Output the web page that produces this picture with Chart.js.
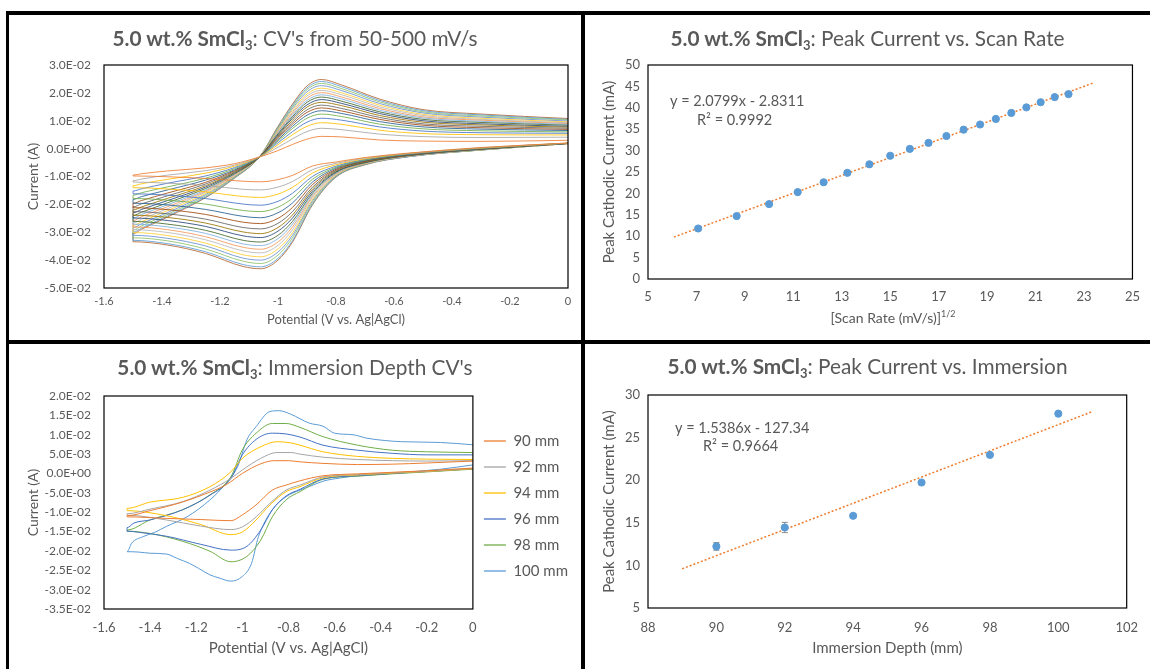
<!DOCTYPE html>
<html>
<head>
<meta charset="utf-8">
<script src="https://cdn.jsdelivr.net/npm/chart.js@4.4.1/dist/chart.umd.min.js"></script>
<style>
  body { margin: 0; background: #fff; }
  #page { position: relative; width: 1150px; height: 669px; overflow: hidden; background: #fff; font-family: Lato, sans-serif; color: #595959; }
  .bar { position: absolute; background: #000; }
  canvas { position: absolute; }
  .title { position: absolute; text-align: center; font-size: 20.8px; line-height: 24px; white-space: nowrap; }
  .title b { font-weight: 700; }
  .title sub { font-size: 13px; vertical-align: -4px; line-height: 0; }
  .axlab { position: absolute; text-align: center; font-size: 14px; line-height: 20px; white-space: nowrap; }
  .axlab sup { font-size: 9px; vertical-align: 6px; line-height: 0; }
</style>
</head>
<body>
<div id="page">
  <canvas id="cvRate" width="572" height="325" style="left:9px;top:15px"></canvas>
  <canvas id="peakRate" width="565" height="325" style="left:585px;top:15px"></canvas>
  <canvas id="cvDepth" width="572" height="325" style="left:9px;top:344px"></canvas>
  <canvas id="peakDepth" width="565" height="325" style="left:585px;top:344px"></canvas>

  <div class="title" style="left:9px;top:26px;width:572px"><b>5.0 wt.% SmCl<sub>3</sub></b>: CV's from 50-500 mV/s</div>
  <div class="title" style="left:585px;top:26px;width:565px"><b>5.0 wt.% SmCl<sub>3</sub></b>: Peak Current vs. Scan Rate</div>
  <div class="title" style="left:9px;top:355px;width:572px"><b>5.0 wt.% SmCl<sub>3</sub></b>: Immersion Depth CV's</div>
  <div class="title" style="left:585px;top:354px;width:565px"><b>5.0 wt.% SmCl<sub>3</sub></b>: Peak Current vs. Immersion</div>
  <div class="axlab" style="left:693px;top:308px;width:400px">[Scan Rate (mV/s)]<sup>1/2</sup></div>

  <div class="bar" style="left:6px;top:11px;width:1144px;height:4px"></div>
  <div class="bar" style="left:6px;top:11px;width:3px;height:658px"></div>
  <div class="bar" style="left:581px;top:11px;width:4px;height:658px"></div>
  <div class="bar" style="left:6px;top:340px;width:1144px;height:4px"></div>
</div>

<script>
// ---- CVs at different scan rates (current in mA) ----
const scanRates = [50, 75, 100, 125, 150, 175, 200, 225, 250, 275, 300, 325, 350, 375, 400, 425, 450, 475, 500];
const cvCathPotential = [0, -0.3, -0.55, -0.7, -0.8, -0.88, -0.95, -1.0, -1.06, -1.12, -1.25, -1.38, -1.5];
const cvRetPotential = [-1.5, -1.47, -1.38, -1.25, -1.15, -1.064, -1.0, -0.95, -0.9, -0.85, -0.78, -0.65, -0.5, -0.3, 0];
const cvCathCurrent = [
  [2.0, 0.4, -1.6, -3.2, -4.8, -6.2, -9.6, -11.1, -11.9, -11.7, -10.7, -10.1, -9.8],
  [2.0, 0.3, -1.7, -3.4, -5.3, -7.5, -11.8, -13.8, -14.8, -14.6, -13.2, -12.4, -12.0],
  [2.0, 0.2, -1.8, -3.7, -5.8, -8.7, -13.9, -16.3, -17.5, -17.2, -15.5, -14.5, -14.0],
  [1.9, 0.2, -2.0, -3.9, -6.3, -9.9, -16.0, -18.9, -20.3, -19.9, -17.9, -16.7, -16.2],
  [1.9, 0.1, -2.0, -4.1, -6.7, -10.9, -17.8, -21.0, -22.6, -22.2, -19.9, -18.5, -17.9],
  [1.9, 0.0, -2.1, -4.3, -7.0, -11.9, -19.5, -23.0, -24.8, -24.3, -21.8, -20.2, -19.6],
  [1.9, 0.0, -2.2, -4.5, -7.4, -12.8, -21.1, -25.0, -26.9, -26.4, -23.6, -21.9, -21.2],
  [1.9, -0.1, -2.3, -4.6, -7.7, -13.7, -22.6, -26.8, -28.8, -28.3, -25.3, -23.4, -22.6],
  [1.9, -0.1, -2.4, -4.8, -8.0, -14.4, -23.8, -28.3, -30.5, -29.9, -26.7, -24.7, -23.9],
  [1.9, -0.2, -2.4, -4.9, -8.3, -15.1, -24.9, -29.6, -31.9, -31.3, -27.9, -25.8, -24.9],
  [1.9, -0.2, -2.5, -5.0, -8.5, -15.8, -26.1, -31.1, -33.5, -32.9, -29.3, -27.1, -26.1],
  [1.9, -0.3, -2.6, -5.1, -8.8, -16.3, -27.1, -32.3, -34.8, -34.2, -30.4, -28.1, -27.1],
  [1.8, -0.3, -2.6, -5.2, -9.0, -16.9, -28.1, -33.5, -36.1, -35.4, -31.6, -29.1, -28.1],
  [1.8, -0.3, -2.7, -5.3, -9.2, -17.5, -29.1, -34.7, -37.4, -36.7, -32.7, -30.1, -29.1],
  [1.8, -0.4, -2.7, -5.4, -9.5, -18.1, -30.2, -36.0, -38.8, -38.1, -33.9, -31.2, -30.1],
  [1.8, -0.4, -2.8, -5.5, -9.7, -18.6, -31.1, -37.1, -40.0, -39.3, -34.9, -32.2, -31.1],
  [1.8, -0.5, -2.8, -5.6, -9.9, -19.2, -32.0, -38.2, -41.2, -40.4, -36.0, -33.1, -32.0],
  [1.8, -0.5, -2.9, -5.7, -10.1, -19.7, -33.0, -39.4, -42.4, -41.6, -37.0, -34.1, -32.9],
  [1.8, -0.5, -2.9, -5.8, -10.2, -20.0, -33.5, -40.0, -43.1, -42.3, -37.6, -34.6, -33.4]
];
const cvRetCurrent = [
  [-9.5, -9.0, -8.0, -6.9, -5.4, -3.0, -0.7, 1.5, 3.4, 4.4, 4.2, 3.1, 2.7, 2.6, 3.0],
  [-11.5, -10.9, -9.5, -7.9, -5.9, -3.0, 0.5, 3.5, 6.1, 7.3, 6.8, 5.2, 4.3, 4.0, 4.1],
  [-13.3, -12.6, -11.0, -8.8, -6.3, -3.0, 1.4, 5.0, 8.0, 9.3, 8.7, 6.6, 5.4, 5.0, 4.9],
  [-15.2, -14.4, -12.4, -9.8, -6.8, -3.0, 2.1, 6.1, 9.5, 10.9, 10.2, 7.8, 6.3, 5.7, 5.5],
  [-16.7, -15.8, -13.7, -10.6, -7.2, -3.0, 2.7, 7.2, 10.9, 12.4, 11.5, 8.8, 7.1, 6.4, 6.0],
  [-18.2, -17.2, -14.8, -11.3, -7.6, -3.0, 3.2, 8.0, 12.0, 13.6, 12.6, 9.7, 7.8, 7.0, 6.5],
  [-19.6, -18.6, -15.9, -12.1, -7.9, -3.0, 3.7, 8.8, 13.0, 14.6, 13.5, 10.5, 8.4, 7.5, 6.9],
  [-20.9, -19.8, -16.9, -12.7, -8.2, -3.0, 4.1, 9.5, 13.9, 15.6, 14.4, 11.2, 8.9, 8.0, 7.3],
  [-22.0, -20.9, -17.8, -13.3, -8.5, -3.0, 4.5, 10.2, 14.9, 16.6, 15.4, 11.9, 9.5, 8.5, 7.7],
  [-23.0, -21.8, -18.6, -13.8, -8.7, -3.0, 4.9, 10.9, 15.7, 17.6, 16.2, 12.6, 10.0, 8.9, 8.0],
  [-24.0, -22.8, -19.4, -14.3, -9.0, -3.0, 5.3, 11.5, 16.6, 18.5, 17.0, 13.2, 10.5, 9.4, 8.4],
  [-24.9, -23.6, -20.1, -14.8, -9.2, -3.0, 5.7, 12.1, 17.3, 19.3, 17.8, 13.8, 11.0, 9.8, 8.7],
  [-25.8, -24.4, -20.8, -15.2, -9.4, -3.0, 6.0, 12.7, 18.1, 20.1, 18.5, 14.4, 11.4, 10.2, 9.0],
  [-26.7, -25.3, -21.5, -15.6, -9.7, -3.0, 6.3, 13.2, 18.9, 20.9, 19.3, 15.0, 11.9, 10.5, 9.3],
  [-27.6, -26.2, -22.2, -16.1, -9.9, -3.0, 6.7, 13.8, 19.6, 21.7, 20.0, 15.6, 12.3, 10.9, 9.6],
  [-28.4, -26.9, -22.9, -16.5, -10.1, -3.0, 7.0, 14.4, 20.4, 22.6, 20.8, 16.2, 12.8, 11.3, 9.9],
  [-29.2, -27.7, -23.5, -17.0, -10.3, -3.0, 7.4, 15.0, 21.2, 23.4, 21.5, 16.8, 13.2, 11.7, 10.3],
  [-30.0, -28.5, -24.1, -17.4, -10.5, -3.0, 7.7, 15.5, 21.8, 24.1, 22.2, 17.3, 13.6, 12.1, 10.5],
  [-30.5, -28.9, -24.5, -17.6, -10.6, -3.0, 8.0, 16.0, 22.5, 24.8, 22.8, 17.8, 14.0, 12.4, 10.8]
];
const rateColors = ['#ED7D31', '#A5A5A5', '#FFC000', '#4472C4', '#70AD47', '#255E91', '#9E480E', '#636363', '#997300', '#264478',
  '#43682B', '#7CAFDD', '#F1975A', '#B7B7B7', '#FFCD33', '#698ED0', '#8CC168', '#5B9BD5', '#B4642D'];

// ---- peak current vs scan rate ----
const sqrtScanRate = [7.07, 8.66, 10.0, 11.18, 12.25, 13.23, 14.14, 15.0, 15.81, 16.58, 17.32, 18.03, 18.71, 19.36, 20.0, 20.62, 21.21, 21.79, 22.36];
const peakByRate = [11.8, 14.7, 17.5, 20.3, 22.6, 24.8, 26.8, 28.8, 30.4, 31.8, 33.4, 34.9, 36.1, 37.4, 38.8, 40.1, 41.3, 42.5, 43.2];
const rateFitX = [6.07, 23.36];
const rateFitY = [9.79, 45.76];

// ---- CVs at different immersion depths (current in mA) ----
const depthLabels = ['90 mm', '92 mm', '94 mm', '96 mm', '98 mm', '100 mm'];
const cv90V = [0, -0.2, -0.35, -0.5, -0.65, -0.75, -0.81, -0.87, -0.94, -1.0, -1.05, -1.18, -1.33, -1.5, -1.5, -1.4, -1.26, -1.14, -1.07, -1.0, -0.92, -0.86, -0.8, -0.75, -0.65, -0.5, -0.35, -0.2, 0];
const cv90I = [1.4, 0.7, 0.3, -0.1, -0.6, -1.9, -3.0, -4.3, -8.1, -10.7, -12.2, -11.9, -11.6, -11.2, -10.9, -9.6, -7.4, -4.8, -2.9, 0.0, 2.5, 3.3, 3.3, 3.0, 2.6, 2.3, 2.4, 2.7, 3.2];
const cv92V = [0, -0.2, -0.35, -0.5, -0.65, -0.75, -0.81, -0.88, -0.94, -1.0, -1.05, -1.18, -1.33, -1.5, -1.5, -1.4, -1.26, -1.14, -1.05, -1.0, -0.92, -0.85, -0.79, -0.75, -0.65, -0.5, -0.35, -0.2, 0];
const cv92I = [1.3, 0.6, 0.2, -0.3, -0.9, -3.0, -4.3, -7.7, -11.2, -13.8, -14.5, -13.6, -12.0, -10.8, -10.4, -9.2, -7.3, -4.3, -1.3, 0.9, 3.9, 5.4, 5.4, 5.0, 4.2, 3.6, 3.3, 3.2, 3.3];
const cv94V = [0, -0.2, -0.35, -0.5, -0.65, -0.75, -0.81, -0.88, -0.94, -1.0, -1.05, -1.18, -1.33, -1.5, -1.5, -1.4, -1.26, -1.14, -1.05, -1.0, -0.92, -0.85, -0.79, -0.75, -0.65, -0.5, -0.35, -0.2, 0];
const cv94I = [1.2, 0.5, 0.1, -0.4, -1.1, -3.4, -4.7, -8.1, -12.0, -15.1, -15.8, -13.2, -10.9, -9.6, -9.0, -7.4, -6.2, -3.4, 0.4, 3.9, 6.9, 8.2, 7.9, 7.3, 5.6, 4.4, 3.9, 3.7, 3.6];
const cv96V = [0, -0.2, -0.35, -0.5, -0.65, -0.75, -0.81, -0.87, -0.92, -0.98, -1.05, -1.18, -1.33, -1.45, -1.5, -1.5, -1.47, -1.4, -1.26, -1.14, -1.05, -1.0, -0.94, -0.87, -0.81, -0.75, -0.65, -0.5, -0.35, -0.2, 0];
const cv96I = [1.2, 0.5, 0.0, -0.6, -1.4, -4.1, -5.8, -9.4, -14.6, -18.8, -19.8, -18.3, -16.2, -15.2, -14.9, -14.0, -12.8, -12.0, -9.4, -5.6, -1.3, 4.8, 8.8, 10.4, 10.2, 9.4, 7.3, 6.0, 5.2, 4.8, 4.8];
const cv98V = [0, -0.2, -0.35, -0.5, -0.65, -0.75, -0.81, -0.87, -0.92, -0.98, -1.05, -1.14, -1.26, -1.4, -1.5, -1.5, -1.4, -1.26, -1.14, -1.05, -1.0, -0.94, -0.87, -0.81, -0.75, -0.65, -0.5, -0.35, -0.2, 0];
const cv98I = [1.1, 0.4, -0.1, -0.7, -1.5, -4.7, -6.8, -11.2, -17.2, -21.4, -22.8, -20.1, -17.5, -15.5, -14.9, -14.6, -12.0, -9.4, -5.5, -0.9, 6.1, 10.4, 12.9, 12.9, 11.9, 9.5, 7.3, 6.0, 5.6, 5.4];
const cv100V = [0, -0.14, -0.36, -0.5, -0.58, -0.65, -0.71, -0.75, -0.81, -0.87, -0.93, -0.96, -1.0, -1.05, -1.1, -1.14, -1.19, -1.23, -1.28, -1.33, -1.4, -1.45, -1.5,
  -1.5, -1.48, -1.43, -1.38, -1.33, -1.24, -1.14, -1.07, -1.02, -0.98, -0.94, -0.88, -0.84, -0.79, -0.71, -0.65, -0.6, -0.52, -0.46, -0.38, -0.31, -0.14, 0];
const cv100I = [2.2, 1.1, 0.0, -0.6, -1.2, -2.0, -3.4, -4.3, -6.0, -9.4, -16.3, -23.2, -26.6, -27.8, -27.0, -26.2, -24.5, -23.2, -22.0, -20.8, -20.6, -20.3, -20.2,
  -20.2, -18.0, -16.3, -15.2, -13.7, -11.2, -6.8, -2.5, 1.8, 8.7, 12.1, 16.0, 16.2, 15.3, 13.0, 12.2, 10.4, 10.0, 9.1, 8.5, 8.2, 8.0, 7.4];
const depthColors = ['#ED7D31', '#A5A5A5', '#FFC000', '#4472C4', '#70AD47', '#5B9BD5'];

// ---- peak current vs immersion depth ----
const depths = [90, 92, 94, 96, 98, 100];
const peakByDepth = [12.23, 14.45, 15.82, 19.73, 22.97, 27.81];
const peakErr = [0.45, 0.6, 0.1, 0.1, 0.1, 0.1];
const depthFitX = [89, 101];
const depthFitY = [9.60, 28.06];

const textColor = '#595959';
Chart.defaults.font.family = 'Lato, sans-serif';
Chart.defaults.color = textColor;
Chart.defaults.animation = false;

function sci(v) {
  if (Math.abs(v) < 1e-9) return '0.0E+00';
  var parts = v.toExponential(1).split('e');
  return parts[0] + 'E' + parts[1][0] + parts[1].slice(1).padStart(2, '0');
}

function plain(v) {
  return String(Math.round(v * 10) / 10);
}

function pts(xs, ys, k) {
  return xs.map(function(x, j) { return {x: x, y: ys[j] * k}; });
}

// black box round the plot area
const framePlugin = {
  id: 'frame',
  afterDatasetsDraw(chart) {
    var a = chart.chartArea, ctx = chart.ctx;
    ctx.save();
    ctx.strokeStyle = '#000';
    ctx.lineWidth = 1.2;
    ctx.strokeRect(a.left, a.top, a.right - a.left, a.bottom - a.top);
    ctx.restore();
  }
};

// trendline equation text
const eqPlugin = {
  id: 'eq',
  afterDraw(chart, args, opts) {
    var a = chart.chartArea, ctx = chart.ctx;
    ctx.save();
    ctx.fillStyle = textColor;
    ctx.font = '14.5px Lato, sans-serif';
    ctx.textAlign = 'left';
    ctx.textBaseline = 'middle';
    opts.lines.forEach(function(t, i) {
      ctx.fillText(t, a.left + opts.dx[i], a.top + opts.dy[i]);
    });
    ctx.restore();
  }
};

// error bars on the depth points
const errPlugin = {
  id: 'errbars',
  beforeDatasetsDraw(chart) {
    var xs = chart.scales.x, ys = chart.scales.y, ctx = chart.ctx;
    ctx.save();
    ctx.strokeStyle = '#8C8C8C';
    ctx.lineWidth = 1;
    depths.forEach(function(d, i) {
      var px = xs.getPixelForValue(d);
      var top = ys.getPixelForValue(peakByDepth[i] + peakErr[i]);
      var bot = ys.getPixelForValue(peakByDepth[i] - peakErr[i]);
      ctx.beginPath();
      ctx.moveTo(px, top); ctx.lineTo(px, bot);
      ctx.moveTo(px - 3, top); ctx.lineTo(px + 3, top);
      ctx.moveTo(px - 3, bot); ctx.lineTo(px + 3, bot);
      ctx.stroke();
    });
    ctx.restore();
  }
};

function cvScales(yMin, yMax, yStep, xFont, yFont, xTitleSize, xHeight, xPad, xTitlePad) {
  return {
    x: {
      type: 'linear', min: -1.6, max: 0,
      grid: {display: false, drawTicks: false}, border: {display: false},
      ticks: {stepSize: 0.2, font: {size: xFont}, color: textColor, padding: xPad, maxRotation: 0, callback: plain},
      title: {display: true, text: 'Potential (V vs. Ag|AgCl)', color: textColor, font: {size: xTitleSize}, padding: {top: 0, bottom: xTitlePad}},
      afterFit: function(s) { s.height = xHeight; }
    },
    y: {
      min: yMin, max: yMax,
      grid: {display: false, drawTicks: false}, border: {display: false},
      ticks: {stepSize: yStep, font: {size: yFont}, color: textColor, padding: 13, callback: sci},
      title: {display: true, text: 'Current (A)', color: textColor, font: {size: 14}, padding: {top: 16, bottom: 0}},
      afterFit: function(s) { s.width = 95; }
    }
  };
}

function peakScales(xMin, xMax, xStep, yMin, yMax, yStep, xTitle, xHeight, xPad) {
  return {
    x: {
      type: 'linear', min: xMin, max: xMax,
      grid: {display: false, drawTicks: false}, border: {display: false},
      ticks: {stepSize: xStep, font: {size: 13}, color: textColor, padding: xPad, maxRotation: 0},
      title: {display: xTitle !== '', text: xTitle, color: textColor, font: {size: 15}, padding: {top: 0, bottom: 12}},
      afterFit: function(s) { s.height = xHeight; }
    },
    y: {
      min: yMin, max: yMax,
      grid: {display: false, drawTicks: false}, border: {display: false},
      ticks: {stepSize: yStep, font: {size: 13}, color: textColor, padding: 8},
      title: {display: true, text: 'Peak Cathodic Current (mA)', color: textColor, font: {size: 15}, padding: {top: 15, bottom: 0}},
      afterFit: function(s) { s.width = 63; }
    }
  };
}

function drawCharts() {
  // top left: CVs vs scan rate
  var rateSets = scanRates.map(function(rate, i) {
    return {
      label: rate + ' mV/s',
      data: pts(cvCathPotential, cvCathCurrent[i], 0.001).concat(pts(cvRetPotential, cvRetCurrent[i], 0.001)),
      borderColor: rateColors[i],
      borderWidth: 0.85,
      pointRadius: 0,
      cubicInterpolationMode: 'monotone'
    };
  });
  new Chart(document.getElementById('cvRate'), {
    type: 'line',
    data: {datasets: rateSets},
    options: {
      responsive: false,
      layout: {padding: {top: 50, right: 13, bottom: 0, left: 0}},
      plugins: {legend: {display: false}, tooltip: {enabled: false}},
      scales: cvScales(-0.05, 0.03, 0.01, 11, 12, 13, 52, 7, 12)
    },
    plugins: [framePlugin]
  });

  // top right: peak current vs sqrt(scan rate)
  new Chart(document.getElementById('peakRate'), {
    type: 'scatter',
    data: {
      datasets: [{
        label: 'Peak current',
        data: pts(sqrtScanRate, peakByRate, 1),
        backgroundColor: '#5B9BD5', borderColor: '#5B9BD5', pointRadius: 3.6
      }, {
        label: 'Linear fit',
        data: pts(rateFitX, rateFitY, 1),
        showLine: true, borderColor: '#ED7D31', borderWidth: 1.5, borderDash: [2, 2], pointRadius: 0
      }]
    },
    options: {
      responsive: false,
      layout: {padding: {top: 50, right: 11, bottom: 0, left: 0}},
      plugins: {
        legend: {display: false}, tooltip: {enabled: false},
        eq: {lines: ['y = 2.0799x - 2.8311', 'R\u00B2 = 0.9992'], dx: [22, 49], dy: [36, 55]}
      },
      scales: peakScales(5, 25, 2, 0, 50, 5, '', 61, 10)
    },
    plugins: [framePlugin, eqPlugin]
  });

  // bottom left: CVs vs immersion depth
  var depthV = [cv90V, cv92V, cv94V, cv96V, cv98V, cv100V];
  var depthI = [cv90I, cv92I, cv94I, cv96I, cv98I, cv100I];
  var depthSets = depthLabels.map(function(lab, i) {
    return {
      label: lab,
      data: pts(depthV[i], depthI[i], 0.001),
      borderColor: depthColors[i],
      backgroundColor: depthColors[i],
      pointBorderColor: depthColors[i],
      pointBackgroundColor: depthColors[i],
      pointBorderWidth: 1.3,
      borderWidth: 1,
      pointRadius: 0,
      cubicInterpolationMode: 'monotone'
    };
  });
  new Chart(document.getElementById('cvDepth'), {
    type: 'line',
    data: {datasets: depthSets},
    options: {
      responsive: false,
      layout: {padding: {top: 52, right: 3, bottom: 0, left: 0}},
      plugins: {
        tooltip: {enabled: false},
        legend: {
          position: 'right',
          align: 'start',
          title: {display: true, text: ' ', font: {size: 10}, padding: {top: 7, bottom: 7.5}},
          labels: {usePointStyle: true, pointStyle: 'line', pointStyleWidth: 22, font: {size: 15}, color: textColor, padding: 11}
        }
      },
      scales: cvScales(-0.035, 0.02, 0.005, 13, 12, 15, 60, 11, 12)
    },
    plugins: [framePlugin]
  });

  // bottom right: peak current vs immersion depth
  new Chart(document.getElementById('peakDepth'), {
    type: 'scatter',
    data: {
      datasets: [{
        label: 'Peak current',
        data: pts(depths, peakByDepth, 1),
        backgroundColor: '#5B9BD5', borderColor: '#5B9BD5', pointRadius: 3.6
      }, {
        label: 'Linear fit',
        data: pts(depthFitX, depthFitY, 1),
        showLine: true, borderColor: '#ED7D31', borderWidth: 1.5, borderDash: [2, 2], pointRadius: 0
      }]
    },
    options: {
      responsive: false,
      layout: {padding: {top: 51, right: 12, bottom: 0, left: 0}},
      plugins: {
        legend: {display: false}, tooltip: {enabled: false},
        eq: {lines: ['y = 1.5386x - 127.34', 'R\u00B2 = 0.9664'], dx: [27, 55], dy: [33, 51]}
      },
      scales: peakScales(88, 102, 2, 5, 30, 5, 'Immersion Depth (mm)', 61, 12)
    },
    plugins: [framePlugin, eqPlugin, errPlugin]
  });
}

window.onload = function() {
  drawCharts();
};
</script>
</body>
</html>
